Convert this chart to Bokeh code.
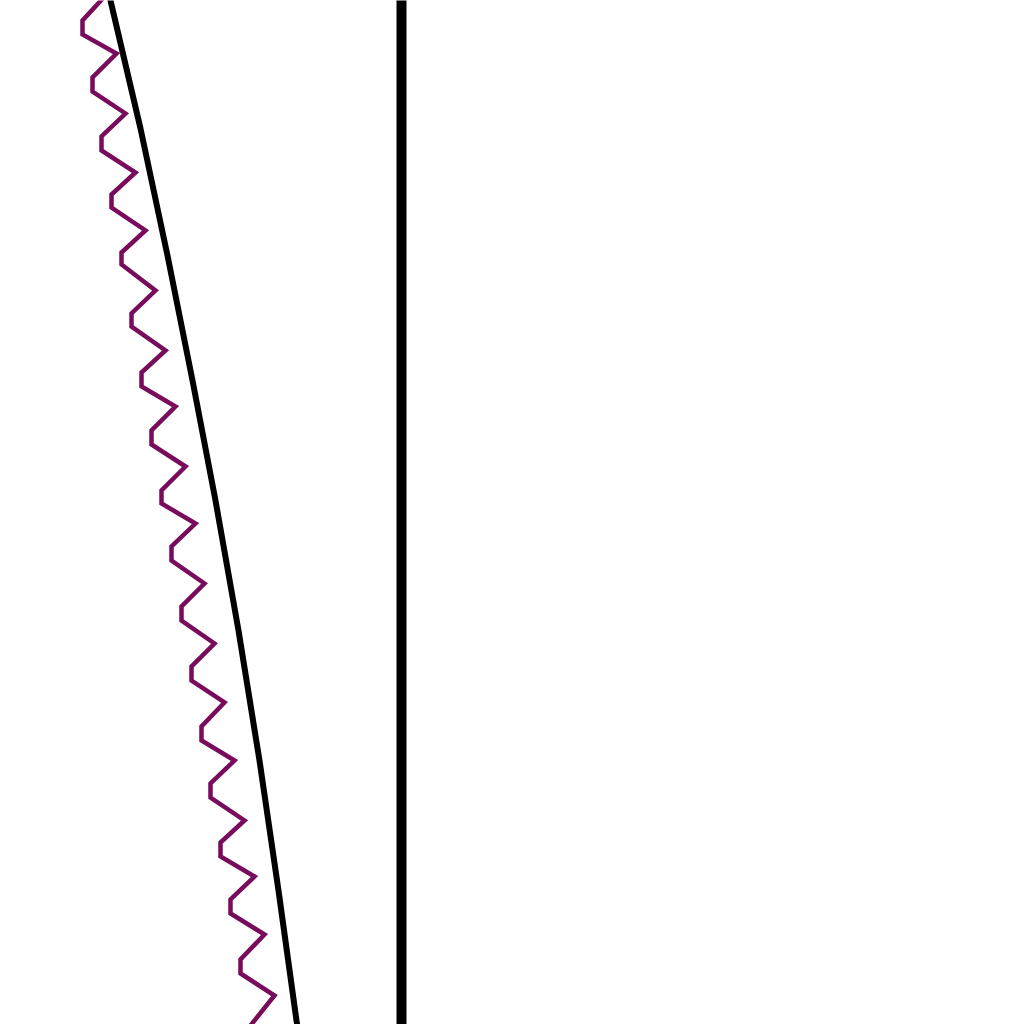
from bokeh.plotting import figure
from bokeh.models import Range1d
from bokeh.embed import file_html
from bokeh.resources import INLINE

# Purple oscillating trace: (x, depth)
wave_x = [106, 82, 82, 116, 92, 92, 125, 101, 101, 135, 111, 111, 145,
          121, 121, 155, 131, 131, 165, 141, 141, 175, 151, 151, 185,
          161, 161, 195, 171, 171, 204, 181, 181, 214, 191, 191, 224,
          201, 201, 234, 210, 210, 244, 220, 220, 254, 230, 230, 264,
          240, 240, 274, 250, 250]
wave_depth = [-6, 20, 34, 53, 77, 91, 113, 136, 150, 172, 194, 207, 230,
              252, 264, 290, 313, 326, 350, 372, 386, 406, 430, 444, 466,
              490, 503, 523, 546, 560, 583, 606, 620, 643, 666, 680, 702,
              726, 740, 760, 783, 797, 820, 842, 856, 876, 899, 913, 934,
              959, 973, 995, 1025, 1039]

# Black trend curve
trend_x = [109, 110, 140, 167, 192, 215, 238, 259, 278, 296, 298]
trend_depth = [-5, 0, 128, 255, 380, 500, 630, 760, 890, 1020, 1032]

# Vertical reference line
ref_x = [401, 401]
ref_depth = [-10, 1040]

p = figure(width=1024, height=1024, output_backend="svg",
           toolbar_location=None, x_range=Range1d(0, 1024),
           y_range=Range1d(1024, 0), min_border=0)
p.axis.visible = False
p.grid.visible = False
p.outline_line_color = None
p.background_fill_color = "white"
p.border_fill_color = "white"

p.line(wave_x, wave_depth, line_color="#780B5B", line_width=4.5,
       line_join="miter")
p.line(trend_x, trend_depth, line_color="black", line_width=6)
p.line(ref_x, ref_depth, line_color="black", line_width=10)

open("out.html", "w").write(file_html(p, INLINE))
